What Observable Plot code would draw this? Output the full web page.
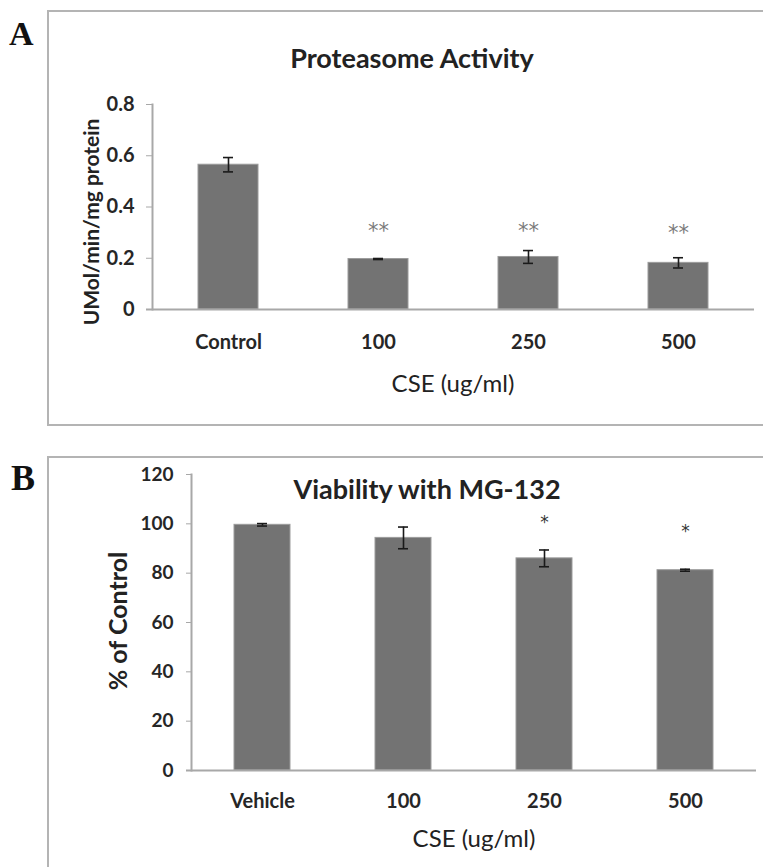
<!DOCTYPE html>
<html>
<head>
<meta charset="utf-8">
<script src="https://cdn.jsdelivr.net/npm/d3@7"></script>
<script src="https://cdn.jsdelivr.net/npm/@observablehq/plot@0.6"></script>
<style>
  html, body { margin: 0; padding: 0; background: #fff; }
  #root { position: relative; width: 763px; height: 867px; overflow: hidden; font-family: Lato, "Open Sans", sans-serif; }
  .frame { position: absolute; border: 2px solid #b4b4b4; box-sizing: border-box; }
  .panel-letter { position: absolute; font-family: "Liberation Serif", "DejaVu Serif", serif; font-weight: bold; color: #111; line-height: 1; }
  .txt { position: absolute; white-space: nowrap; color: #222; line-height: 1; transform: translate(-50%, -50%); }
  .ylab { position: absolute; white-space: nowrap; color: #222; line-height: 1; font-weight: bold; transform: translate(-50%, -50%) rotate(-90deg); }
  .plot { position: absolute; left: 0; }
</style>
</head>
<body>
<div id="root"></div>
<script>
// ---- Panel A data: Proteasome Activity ----
const catsA = ["Control", "100", "250", "500"];
const meanA = [0.565, 0.197, 0.205, 0.182];
const errA = [0.028, 0.002, 0.025, 0.02];
const starsA = ["", "**", "**", "**"];
const starYA = [null, 0.305, 0.307, 0.298];
const ticksA = [0, 0.2, 0.4, 0.6, 0.8];

// ---- Panel B data: Viability with MG-132 ----
const catsB = ["Vehicle", "100", "250", "500"];
const meanB = [99.6, 94.3, 86.0, 81.2];
const errB = [0.5, 4.4, 3.4, 0.4];
const starsB = ["", "", "*", "*"];
const starYB = [null, null, 100.5, 97];
const ticksB = [0, 20, 40, 60, 80, 100, 120];

const root = document.getElementById("root");

function addDiv(cls, text, css) {
  const d = document.createElement("div");
  d.className = cls;
  if (text != null) d.textContent = text;
  Object.assign(d.style, css);
  root.appendChild(d);
  return d;
}

function panel(cfg) {
  const rows = cfg.cats.map((c, i) => ({cat: c, mean: cfg.mean[i], lo: cfg.mean[i] - cfg.err[i], hi: cfg.mean[i] + cfg.err[i]}));
  const stars = cfg.cats.map((c, i) => ({cat: c, y: cfg.starY[i], s: cfg.stars[i]})).filter(d => d.s);
  const bw = cfg.bandwidth;
  const chart = Plot.plot({
    width: 763,
    height: cfg.height,
    marginTop: cfg.mt,
    marginBottom: cfg.mb,
    marginLeft: cfg.ml,
    marginRight: cfg.mr,
    style: {fontFamily: "Lato, 'Open Sans', sans-serif", fontWeight: "bold", fontSize: cfg.tickFont + "px", background: "transparent", overflow: "visible"},
    x: {type: "band", domain: cfg.cats, paddingInner: 0.6, paddingOuter: 0.3},
    y: {domain: cfg.ydomain},
    marks: [
      Plot.barY(rows, {x: "cat", y: "mean", fill: "#737373", stroke: "#9c9c9c", strokeWidth: 1}),
      Plot.ruleX(rows, {x: "cat", y1: "lo", y2: "hi", stroke: "#1a1a1a", strokeWidth: 1.6}),
      Plot.tickY(rows, {x: "cat", y: "hi", stroke: "#1a1a1a", strokeWidth: 1.6, insetLeft: bw / 2 - 5, insetRight: bw / 2 - 5}),
      Plot.tickY(rows, {x: "cat", y: "lo", stroke: "#1a1a1a", strokeWidth: 1.6, insetLeft: bw / 2 - 5, insetRight: bw / 2 - 5}),
      Plot.text(stars, {x: "cat", y: "y", text: "s", fill: cfg.starColor, fontSize: cfg.starFont, fontWeight: "normal", fontFamily: "'DejaVu Sans', sans-serif"}),
      Plot.ruleY([0], {stroke: "#a8a8a8", strokeWidth: 2, insetLeft: -cfg.tickSize}),
      Plot.frame({anchor: "left", stroke: "#a8a8a8", strokeWidth: 2}),
      Plot.axisY({ticks: cfg.ticks, tickFormat: d => String(d), tickSize: cfg.tickSize, tickPadding: cfg.tickPad, stroke: "#a8a8a8", fill: "#262626", label: null, fontSize: cfg.ytickFont}),
      Plot.axisX({tickSize: 0, tickPadding: cfg.xPad, fill: "#262626", label: null})
    ]
  });
  chart.classList.add("plot");
  chart.style.top = cfg.top + "px";
  root.appendChild(chart);
}

// Frames and panel letters
addDiv("frame", null, {left: "47px", top: "10px", width: "740px", height: "416px"});
addDiv("frame", null, {left: "47px", top: "456px", width: "740px", height: "440px"});
addDiv("panel-letter", "A", {left: "9px", top: "17px", fontSize: "34px"});
addDiv("panel-letter", "B", {left: "11px", top: "460px", fontSize: "36px"});

panel({
  cats: catsA, mean: meanA, err: errA, stars: starsA, starY: starYA, ticks: ticksA,
  ydomain: [0, 0.8], top: 0, height: 430, mt: 104, mb: 121, ml: 152, mr: 9,
  bandwidth: 60, tickSize: 6, tickPad: 12, xPad: 25, tickFont: 20, ytickFont: 20,
  starColor: "#7a7a7a", starFont: 21
});
panel({
  cats: catsB, mean: meanB, err: errB, stars: starsB, starY: starYB, ticks: ticksB,
  ydomain: [0, 120], top: 430, height: 437, mt: 44, mb: 97, ml: 191, mr: 7,
  bandwidth: 56, tickSize: 5, tickPad: 13, xPad: 23, tickFont: 20, ytickFont: 19,
  starColor: "#333", starFont: 17
});

// Titles and axis titles
addDiv("txt", "Proteasome Activity", {left: "412px", top: "57px", fontSize: "27px", fontWeight: "bold"});
addDiv("txt", "CSE (ug/ml)", {left: "453px", top: "383px", fontSize: "24px", fontWeight: "normal"});
addDiv("ylab", "UMol/min/mg protein", {left: "90px", top: "222px", fontSize: "21px"});

addDiv("txt", "Viability with MG-132", {left: "427px", top: "488px", fontSize: "27px", fontWeight: "bold"});
addDiv("txt", "CSE (ug/ml)", {left: "474px", top: "838px", fontSize: "24px", fontWeight: "normal"});
addDiv("ylab", "% of Control", {left: "117px", top: "621px", fontSize: "25px"});
</script>
</body>
</html>
